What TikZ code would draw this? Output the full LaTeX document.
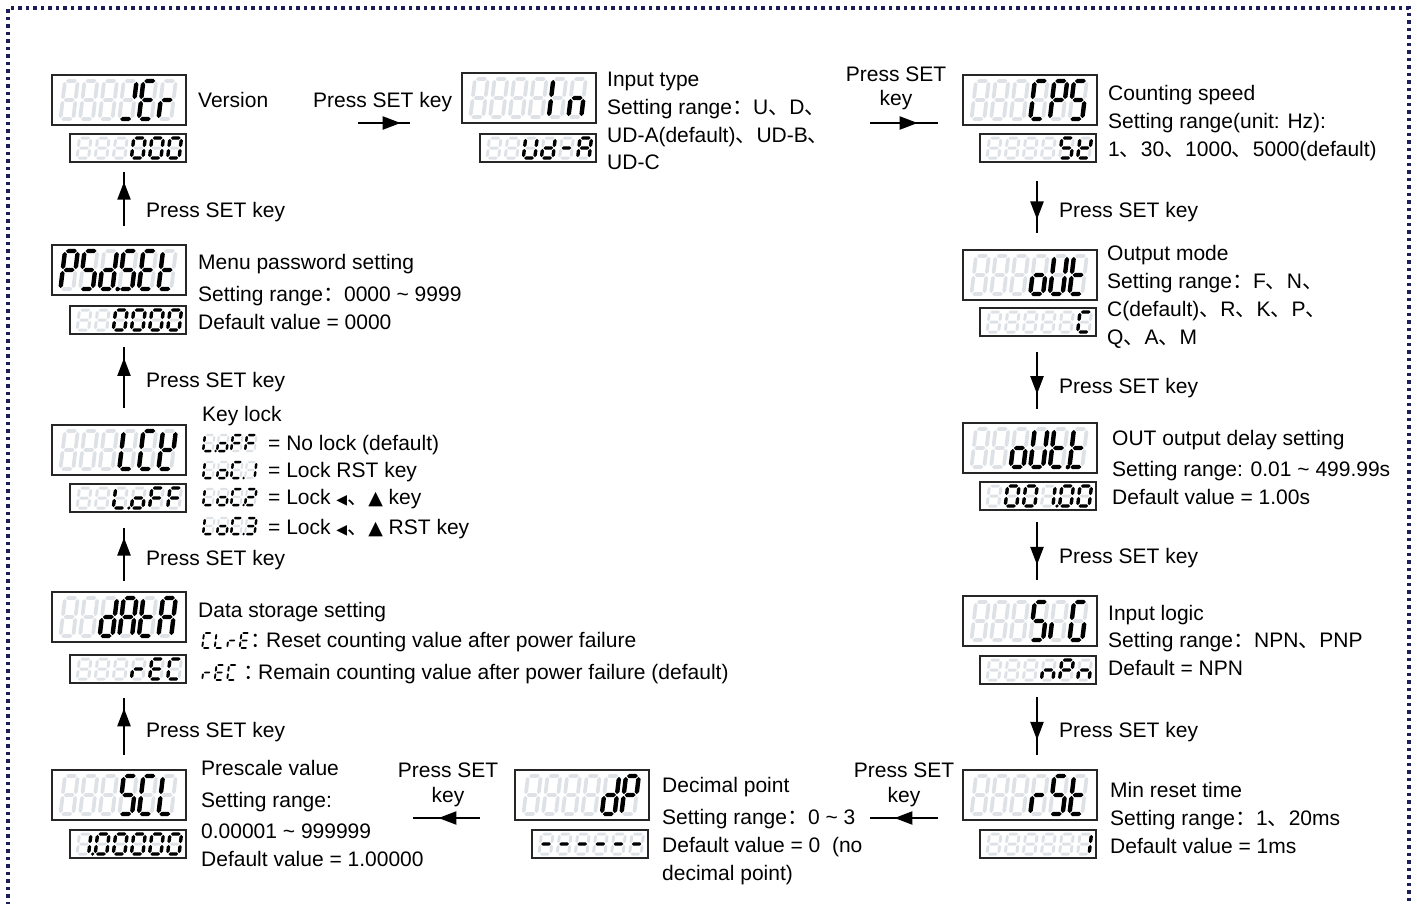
\documentclass[tikz,border=0pt]{standalone}
\usepackage{fontspec}
\setmainfont{Liberation Sans}
\newfontfamily\cjk{Noto Sans CJK SC}
\newfontfamily\symf{DejaVu Sans}
\usetikzlibrary{arrows.meta,decorations.markings}
\definecolor{ghostc}{RGB}{222,226,230}
\definecolor{navy}{RGB}{28,28,88}
\newcommand\fsz{\fontsize{21}{25}\selectfont}
\newcommand\symsm{\symf\fontsize{14}{14}\selectfont}
\newcommand\symmd{\symf\fontsize{19}{19}\selectfont}
\newcommand\tld{\textasciitilde}
\tikzset{
 dbox/.style={draw=black!85, line width=1.2pt, anchor=north west, inner sep=0pt, outer sep=0pt},
 lbl/.style={anchor=base west, inner sep=0pt, font=\fsz},
 clbl/.style={anchor=base, inner sep=0pt, font=\fsz},
 flowarrow/.style={line width=2.3pt, postaction={decorate},
   decoration={markings, mark=at position #1 with {\arrow{Triangle[length=18pt,width=13pt]}}}},
}
% hexagonal segments: colour, x1, x2, y, half thickness / colour, x, y1, y2, half thickness
\newcommand\hseg[5]{\fill[#1] (#2,#4) -- ({#2+#5},{#4-#5}) -- ({#3-#5},{#4-#5}) -- (#3,#4) -- ({#3-#5},{#4+#5}) -- ({#2+#5},{#4+#5}) -- cycle;}
\newcommand\vseg[5]{\fill[#1] (#2,#3) -- ({#2+#5},{#3+#5}) -- ({#2+#5},{#4-#5}) -- (#2,#4) -- ({#2-#5},{#4-#5}) -- ({#2-#5},{#3+#5}) -- cycle;}
\newcommand\sva[1]{\hseg{#1}{\cG}{\cW-\cG}{0}{\cT}}
\newcommand\svb[1]{\vseg{#1}{\cW}{\cG}{\cM-\cG}{\cT}}
\newcommand\svc[1]{\vseg{#1}{\cW}{\cM+\cG}{\cH-\cG}{\cT}}
\newcommand\svd[1]{\hseg{#1}{\cG}{\cW-\cG}{\cH}{\cT}}
\newcommand\sve[1]{\vseg{#1}{0}{\cM+\cG}{\cH-\cG}{\cT}}
\newcommand\svf[1]{\vseg{#1}{0}{\cG}{\cM-\cG}{\cT}}
\newcommand\svg[1]{\hseg{#1}{\cG}{\cW-\cG}{\cM}{\cT}}
\newcommand\svp[1]{\fill[#1] ({\cW+2.4*\cT},\cH) circle ({1.05*\cT});}
% one seven-segment cell: x, y, w, h, segments, line width, ghost line width (0 = none)
\newcommand\cell[7]{%
 \begin{scope}[shift={(#1,#2)}, xslant=0.12]
  \def\cW{#3}\def\cH{#4}\pgfmathsetmacro\cM{#4/2}\def\cG{0.9}
  \ifdim#7pt>0pt \pgfmathsetmacro\cT{#7/2}\foreach \s in {a,b,c,d,e,f,g}{\csname sv\s\endcsname{ghostc}}\fi
  \pgfmathsetmacro\cT{#6/2}%
  \def\segl{#5}\ifx\segl\empty\else\foreach \s in {#5}{\csname sv\s\endcsname{black}}\fi
 \end{scope}}
\newcommand\bigd[9]{%
 \node[dbox, minimum width=134pt, minimum height=50pt] (#1) at (#2,#3) {};
 \cell{#2+13}{#3+6}{12.8}{38}{#4}{4.4}{3.8}%
 \cell{#2+32.6}{#3+6}{12.8}{38}{#5}{4.4}{3.8}%
 \cell{#2+52.2}{#3+6}{12.8}{38}{#6}{4.4}{3.8}%
 \cell{#2+71.8}{#3+6}{12.8}{38}{#7}{4.4}{3.8}%
 \cell{#2+91.4}{#3+6}{12.8}{38}{#8}{4.4}{3.8}%
 \cell{#2+111}{#3+6}{12.8}{38}{#9}{4.4}{3.8}}
\newcommand\smalld[9]{%
 \node[dbox, minimum width=116pt, minimum height=28pt] (#1) at (#2,#3) {};
 \cell{#2+9.5}{#3+4}{11.5}{20}{#4}{3.4}{3.0}%
 \cell{#2+27.6}{#3+4}{11.5}{20}{#5}{3.4}{3.0}%
 \cell{#2+45.7}{#3+4}{11.5}{20}{#6}{3.4}{3.0}%
 \cell{#2+63.8}{#3+4}{11.5}{20}{#7}{3.4}{3.0}%
 \cell{#2+81.9}{#3+4}{11.5}{20}{#8}{3.4}{3.0}%
 \cell{#2+100}{#3+4}{11.5}{20}{#9}{3.4}{3.0}}
% small inline icon with ghosts: x, y(top), 4 cells
\newcommand\icon[6]{%
 \cell{#1}{#2}{9.5}{16}{#3}{2.5}{2.1}%
 \cell{#1+14}{#2}{9.5}{16}{#4}{2.5}{2.1}%
 \cell{#1+28}{#2}{9.5}{16}{#5}{2.5}{2.1}%
 \cell{#1+42}{#2}{9.5}{16}{#6}{2.5}{2.1}}
\newcommand\plainicon[6]{%
 \cell{#1}{#2}{8}{15}{#3}{1.9}{0}%
 \cell{#1+12.5}{#2}{8}{15}{#4}{1.9}{0}%
 \cell{#1+25}{#2}{8}{15}{#5}{1.9}{0}%
 \cell{#1+37.5}{#2}{8}{15}{#6}{1.9}{0}}
\newcommand\cc[1]{{\cjk #1}}
\begin{document}
\begin{tikzpicture}[x=1pt,y=-1pt]
\useasboundingbox (0,0) rectangle (1417,903);
% border
\draw[navy, line width=3.5pt, dash pattern=on 3.5pt off 4pt] (8,920) -- (8,8) -- (1409,8) -- (1409,920);

% ---------- displays ----------
% left column
\bigd{dVer}{52}{75}{}{}{}{b,d}{a,d,e,f,g}{e,g}
\smalld{vVer}{70}{134}{}{}{}{a,b,c,d,e,f}{a,b,c,d,e,f}{a,b,c,d,e,f}
\bigd{dPsd}{52}{245}{a,b,e,f,g}{a,c,d,f,g}{b,c,d,e,g,p}{a,c,d,f,g}{a,d,e,f,g}{d,e,f,g}
\smalld{vPsd}{70}{306}{}{}{a,b,c,d,e,f}{a,b,c,d,e,f}{a,b,c,d,e,f}{a,b,c,d,e,f}
\bigd{dLck}{52}{425}{}{}{}{d,e,f}{a,d,e,f}{b,d,e,f,g}
\smalld{vLck}{70}{484}{}{}{d,e,f,p}{c,d,e,g}{a,e,f,g}{a,e,f,g}
\bigd{dData}{52}{592}{}{}{b,c,d,e,g}{a,b,c,e,f,g}{d,e,f,g}{a,b,c,e,f,g}
\smalld{vData}{70}{655}{}{}{}{e,g}{a,d,e,f,g}{a,d,e,f}
\bigd{dScl}{52}{770}{}{}{}{a,c,d,f,g}{a,d,e,f}{d,e,f}
\smalld{vScl}{70}{830}{b,c,p}{a,b,c,d,e,f}{a,b,c,d,e,f}{a,b,c,d,e,f}{a,b,c,d,e,f}{a,b,c,d,e,f}
% middle
\bigd{dIn}{462}{73}{}{}{}{}{e,f}{c,e,g}
\smalld{vIn}{480}{134}{}{}{b,c,d,e,f}{b,c,d,e,g}{g}{a,b,c,e,f,g}
\bigd{dDp}{515}{770}{}{}{}{}{b,c,d,e,g}{a,b,e,f,g}
\smalld{vDp}{532}{830}{g}{g}{g}{g}{g}{g}
% right column
\bigd{dCps}{963}{75}{}{}{}{a,d,e,f}{a,b,e,f,g}{a,c,d,f,g}
\smalld{vCps}{980}{134}{}{}{}{}{a,c,d,f,g}{b,d,e,f,g}
\bigd{dOut}{963}{250}{}{}{}{c,d,e,g}{b,c,d,e,f}{d,e,f,g}
\smalld{vOut}{980}{308}{}{}{}{}{}{a,d,e,f}
\bigd{dOutt}{963}{423}{}{}{c,d,e,g}{b,c,d,e,f}{d,e,f,g,p}{d,e,f,g}
\smalld{vOutt}{980}{482}{}{a,b,c,d,e,f}{a,b,c,d,e,f}{b,c,p}{a,b,c,d,e,f}{a,b,c,d,e,f}
\bigd{dSig}{963}{596}{}{}{}{a,c,d,f,g}{e}{a,c,d,e,f}
\smalld{vSig}{980}{656}{}{}{}{c,e,g}{a,b,e,f,g}{c,e,g}
\bigd{dRst}{963}{770}{}{}{}{e,g}{a,c,d,f,g}{d,e,f,g}
\smalld{vRst}{980}{830}{}{}{}{}{}{b,c}

% ---------- arrows ----------
\coordinate (h1s) at (358,123); \coordinate (h1e) at (410,123);
\draw[flowarrow=0.82] (h1s) -- (h1e);
\coordinate (h2s) at (870,123); \coordinate (h2e) at (938,123);
\draw[flowarrow=0.7] (h2s) -- (h2e);
\coordinate (h3s) at (480,818); \coordinate (h3e) at (413,818);
\draw[flowarrow=0.62] (h3s) -- (h3e);
\coordinate (h4s) at (938,818); \coordinate (h4e) at (870,818);
\draw[flowarrow=0.64] (h4s) -- (h4e);
\foreach \i/\a/\b in {1/226/172, 2/408/347, 3/581/528, 4/755/698}{
  \coordinate (l\i s) at (124,\a); \coordinate (l\i e) at (124,\b);
  \draw[flowarrow=0.82] (l\i s) -- (l\i e);}
\foreach \i/\a/\b in {1/181/233, 2/352/409, 3/522/580, 4/697/755}{
  \coordinate (r\i s) at (1037,\a); \coordinate (r\i e) at (1037,\b);
  \draw[flowarrow=0.74] (r\i s) -- (r\i e);}

% ---------- labels ----------
\node[lbl] (tVer) at (198,107) {Version};
\node[lbl] (p1) at (313,107) {Press SET key};
\node[lbl] (tIn1) at (607,86) {Input type};
\node[lbl] (tIn2) at (607,114) {Setting range\cc{：}U\cc{、}D\cc{、}};
\node[lbl] (tIn3) at (607,142) {UD-A(default)\cc{、}UD-B\cc{、}};
\node[lbl] (tIn4) at (607,169) {UD-C};
\node[clbl] (p2a) at (896,81) {Press SET};
\node[clbl] (p2b) at (896,105) {key};
\node[lbl] (tCps1) at (1108,100) {Counting speed};
\node[lbl] (tCps2) at (1108,128) {Setting range(unit: Hz):};
\node[lbl] (tCps3) at (1108,156) {1\cc{、}30\cc{、}1000\cc{、}5000(default)};

\node[lbl] (pl1) at (146,217) {Press SET key};
\node[lbl] (pl2) at (146,387) {Press SET key};
\node[lbl] (pl3) at (146,565) {Press SET key};
\node[lbl] (pl4) at (146,737) {Press SET key};
\node[lbl] (pr1) at (1059,217) {Press SET key};
\node[lbl] (pr2) at (1059,393) {Press SET key};
\node[lbl] (pr3) at (1059,563) {Press SET key};
\node[lbl] (pr4) at (1059,737) {Press SET key};

\node[lbl] (tPsd1) at (198,269) {Menu password setting};
\node[lbl] (tPsd2) at (198,301) {Setting range\cc{：}0000 \tld\ 9999};
\node[lbl] (tPsd3) at (198,329) {Default value = 0000};

\node[lbl] (tLck0) at (202,421) {Key lock};
\icon{205}{435}{d,e,f,p}{c,d,e,g}{a,e,f,g}{a,e,f,g}
\icon{205}{462}{d,e,f}{c,d,e,g}{a,d,e,f,p}{b,c}
\icon{205}{489}{d,e,f}{c,d,e,g}{a,d,e,f,p}{a,b,d,e,g}
\icon{205}{518}{d,e,f}{c,d,e,g}{a,d,e,f,p}{a,b,c,d,g}
\node[lbl] (tLck1) at (268,450) {= No lock (default)};
\node[lbl] (tLck2) at (268,477) {= Lock RST key};
\node[lbl] (tLck3) at (268,504) {= Lock {\symsm ◀}\cc{、}{\symmd ▲} key};
\node[lbl] (tLck4) at (268,534) {= Lock {\symsm ◀}\cc{、}{\symmd ▲} RST key};

\node[lbl] (tDat1) at (198,617) {Data storage setting};
\plainicon{204}{633}{a,d,e,f}{d,e,f}{e,g}{a,d,e,f,g}
\node[lbl] (cDat2) at (250,647) {\cc{：}};
\node[lbl] (tDat2) at (266,647) {Reset counting value after power failure};
\plainicon{204}{665}{e,g}{a,d,e,f,g}{a,d,e,f}{}
\node[lbl] (cDat3) at (243,679) {\cc{：}};
\node[lbl] (tDat3) at (258,679) {Remain counting value after power failure (default)};

\node[lbl] (tScl1) at (201,775) {Prescale value};
\node[lbl] (tScl2) at (201,807) {Setting range:};
\node[lbl] (tScl3) at (201,838) {0.00001 \tld\ 999999};
\node[lbl] (tScl4) at (201,866) {Default value = 1.00000};
\node[clbl] (p3a) at (448,777) {Press SET};
\node[clbl] (p3b) at (448,802) {key};

\node[lbl] (tDp1) at (662,792) {Decimal point};
\node[lbl] (tDp2) at (662,824) {Setting range\cc{：}0 \tld\ 3};
\node[lbl] (tDp3) at (662,852) {Default value = 0\ \ (no};
\node[lbl] (tDp4) at (662,880) {decimal point)};
\node[clbl] (p4a) at (904,777) {Press SET};
\node[clbl] (p4b) at (904,802) {key};

\node[lbl] (tRst1) at (1110,797) {Min reset time};
\node[lbl] (tRst2) at (1110,825) {Setting range\cc{：}1\cc{、}20ms};
\node[lbl] (tRst3) at (1110,853) {Default value = 1ms};

\node[lbl] (tOut1) at (1107,260) {Output mode};
\node[lbl] (tOut2) at (1107,288) {Setting range\cc{：}F\cc{、}N\cc{、}};
\node[lbl] (tOut3) at (1107,316) {C(default)\cc{、}R\cc{、}K\cc{、}P\cc{、}};
\node[lbl] (tOut4) at (1107,344) {Q\cc{、}A\cc{、}M};

\node[lbl] (tOd1) at (1112,445) {OUT output delay setting};
\node[lbl] (tOd2) at (1112,476) {Setting range: 0.01 \tld\ 499.99s};
\node[lbl] (tOd3) at (1112,504) {Default value = 1.00s};

\node[lbl] (tSig1) at (1108,620) {Input logic};
\node[lbl] (tSig2) at (1108,647) {Setting range\cc{：}NPN\cc{、}PNP};
\node[lbl] (tSig3) at (1108,675) {Default = NPN};
\end{tikzpicture}
\end{document}
